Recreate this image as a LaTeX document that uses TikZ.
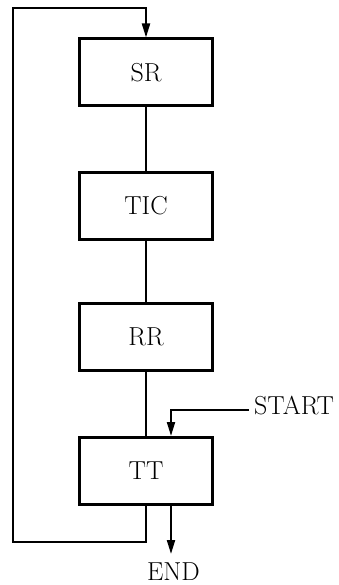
\documentclass[tikz,border=0pt]{standalone}
\usepackage{fontspec}
\usepackage{tikz}
\usetikzlibrary{arrows.meta,positioning}

\tikzset{
  stage/.style={draw,line width=3pt,minimum width=133pt,minimum height=67pt,
    font=\fontsize{26}{30}\selectfont},
  flow/.style={line width=2pt},
  flowarrow/.style={flow,-{Triangle[length=14pt,width=8pt]}},
  tag/.style={font=\fontsize{26}{30}\selectfont,inner sep=0pt}
}

\begin{document}
\begin{tikzpicture}[x=1pt,y=-1pt]
  \useasboundingbox (0,0) rectangle (339,585);
  % stages of the cycle
  \node[stage] (sr)  at (146,72.5) {SR};
  \node[stage] (tic) at (146,206)  {TIC};
  \node[stage] (rr)  at (146,337)  {RR};
  \node[stage] (tt)  at (146,471)  {TT};
  \draw[flow] (sr) -- (tic);
  \draw[flow] (tic) -- (rr);
  \draw[flow] (rr) -- (tt);
  % return loop
  \coordinate (loopbot) at (13,542);
  \coordinate (looptop) at (13,8);
  \draw[flowarrow] (tt.south) |- (loopbot) -- (looptop) -| (sr.north);
  % entry
  \coordinate (startpt) at (249,410);
  \node[tag,anchor=base west] (start) at (254,414) {START};
  \draw[flowarrow] (startpt) -| ([xshift=25pt]tt.north);
  % exit
  \coordinate (endtip) at ([xshift=25pt]tt.south |- 0,554);
  \node[tag,anchor=base] (end) at (173.5,580) {END};
  \draw[flowarrow] ([xshift=25pt]tt.south) -- (endtip);
\end{tikzpicture}
\end{document}
